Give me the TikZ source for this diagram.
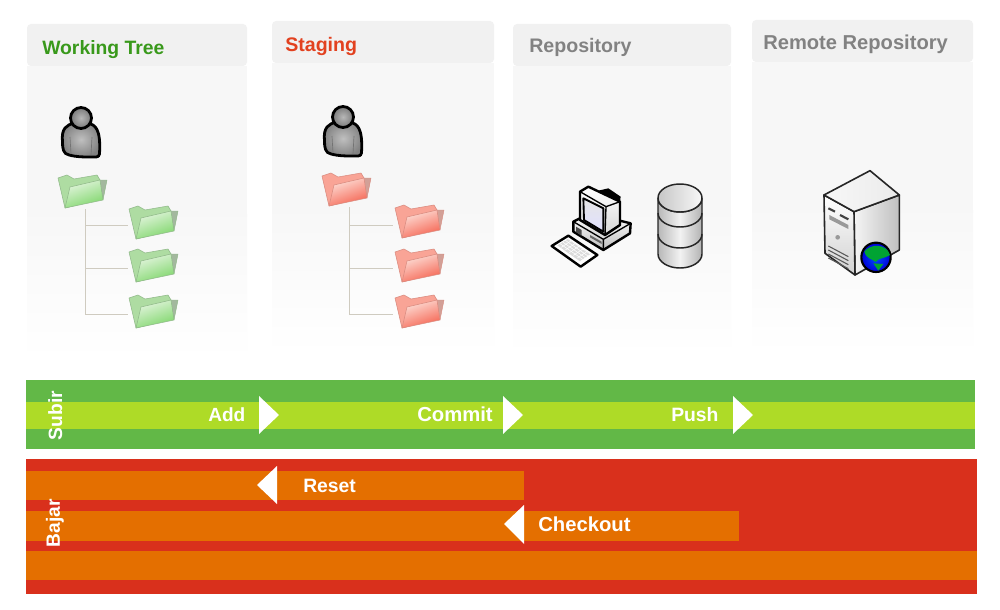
\documentclass[tikz,border=0pt]{standalone}
\usepackage{fontspec}
\setmainfont{Liberation Sans}
\usetikzlibrary{shadings}
\definecolor{barG}{HTML}{62B847}
\definecolor{barL}{HTML}{AEDB27}
\definecolor{barR}{HTML}{D9301C}
\definecolor{barO}{HTML}{E46F00}
\definecolor{ttlG}{HTML}{39991B}
\definecolor{ttlR}{HTML}{E2411F}
\definecolor{ttlK}{HTML}{828282}
\definecolor{lineT}{HTML}{CFCBC0}
\definecolor{gBack}{HTML}{AEDCA2}
\definecolor{gEdge}{HTML}{8FB888}
\definecolor{gFlap}{HTML}{A3B89E}
\definecolor{gLite}{HTML}{E4F5DF}
\definecolor{gDeep}{HTML}{7FD66B}
\definecolor{rBack}{HTML}{F9A496}
\definecolor{rEdge}{HTML}{D98A7E}
\definecolor{rFlap}{HTML}{D2A097}
\definecolor{rLite}{HTML}{FDE0D9}
\definecolor{rDeep}{HTML}{F56350}
\newcommand{\fsz}[1]{\fontsize{#1}{16}\selectfont\bfseries}
\tikzset{
  x=0.75pt,y=-0.75pt,
  paneltitle/.style={font=\fsz{14.7},anchor=base west,inner sep=0pt},
  barlabel/.style={text=white,inner sep=0pt,anchor=base west},
  sidelabel/.style={text=white,inner sep=0pt,rotate=90,anchor=base},
  arrowhead/.style={fill=white,draw=none},
  treeline/.style={draw=lineT,line width=0.75pt},
  pics/panel/.style args={#1/#2/#3}{code={
    \fill[black!5.5,rounded corners=3pt] (0,0) rectangle (#1,42);
    \fill[black!3] (0,#3) rectangle (#1,190);
    \shade[top color=black!3,bottom color=white] (0,190) rectangle (#1,#2);
  }},
  pics/folder/.style n args={5}{code={
    \fill[#1,draw=#2,line width=0.4pt,line join=round]
      (0,3) -- (9,0) -- (16,4) -- (39,0) -- (42,5) -- (39,25) -- (7,33) -- cycle;
    \fill[#5,draw=#2,line width=0.3pt,line join=round] (41,5) -- (49,5) -- (45,25) -- cycle;
    \shade[top color=#4,bottom color=#3,shading angle=20,draw=#2,line width=0.4pt,line join=round]
      (7,33) -- (12,12) -- (42,5) -- (45,25) -- cycle;
  }},
  pics/person/.style={code={
    \shade[inner color=black!25,outer color=black!50,draw=black,line width=2.1pt,line join=round]
      (-18.5,24) .. controls (-20,10) and (-14,7) .. (-7,5)
      .. controls (-2,3) and (2,3) .. (7,5)
      .. controls (14,7) and (20,10) .. (18.5,36)
      .. controls (18,40) and (14,39) .. (8,39)
      .. controls (2,39) and (-4,39) .. (-12,37)
      .. controls (-18,36) and (-18.5,30) .. (-18.5,24) -- cycle;
    \shade[inner color=black!28,outer color=black!52,draw=black,line width=2.1pt] (0,0) circle (10.5);
    \draw[black!55,line width=0.5pt] (-11,19) -- (-10,36) (11,19) -- (10,37);
  }}
}
\begin{document}
\begin{tikzpicture}
\useasboundingbox (0,0) rectangle (1000,610);
\fill[white] (0,0) rectangle (1000,610);

% panels
\pic at (27,24)  {panel={220/336/42}};
\pic at (272,21) {panel={222/334/42}};
\pic at (513,24) {panel={218/332/42}};
\pic at (752,20) {panel={221/335/42}};

\node[paneltitle,text=ttlG,font=\fsz{14.5}] (ttlWork) at (42,55) {Working Tree};
\node[paneltitle,text=ttlR] (ttlStage) at (285,52) {Staging};
\node[paneltitle,text=ttlK] (ttlRepo) at (529,53) {Repository};
\node[paneltitle,text=ttlK,font=\fsz{15.1}] (ttlRemote) at (763,50) {Remote Repository};

% people
\pic at (81,118) {person};
\pic at (343,117) {person};

% tree: working
\coordinate (wr) at (85,209);
\coordinate (we) at (85,314);
\coordinate (w1a) at (85,225); \coordinate (w1) at (128,225);
\coordinate (w2a) at (85,268); \coordinate (w2) at (128,268);
\coordinate (w3) at (128,314);
\draw[treeline] (wr) -- (we) -- (w3) (w1a) -- (w1) (w2a) -- (w2);
\pic at (58,175)  {folder={gBack}{gEdge}{gDeep}{gLite}{gFlap}};
\pic at (129,206) {folder={gBack}{gEdge}{gDeep}{gLite}{gFlap}};
\pic at (129,249) {folder={gBack}{gEdge}{gDeep}{gLite}{gFlap}};
\pic at (129,295) {folder={gBack}{gEdge}{gDeep}{gLite}{gFlap}};

% tree: staging
\coordinate (sr) at (349,207);
\coordinate (se) at (349,314);
\coordinate (s1a) at (349,225); \coordinate (s1) at (393,225);
\coordinate (s2a) at (349,268); \coordinate (s2) at (393,268);
\coordinate (s3) at (393,314);
\draw[treeline] (sr) -- (se) -- (s3) (s1a) -- (s1) (s2a) -- (s2);
\pic at (322,173) {folder={rBack}{rEdge}{rDeep}{rLite}{rFlap}};
\pic at (395,205) {folder={rBack}{rEdge}{rDeep}{rLite}{rFlap}};
\pic at (395,249) {folder={rBack}{rEdge}{rDeep}{rLite}{rFlap}};
\pic at (395,295) {folder={rBack}{rEdge}{rDeep}{rLite}{rFlap}};

% computer
\begin{scope}[shift={(540,170)},x=0.25pt,y=-0.25pt,line join=round]
  \fill[white,draw=black,line width=1.8pt] (35,228) -- (85,197) -- (172,255) -- (122,290) -- cycle;
  \fill[black!14] (52,226) -- (85,206) -- (152,252) -- (120,274) -- cycle;
  \foreach \k in {0,1,2,3}{\draw[white,line width=0.4pt] (60+\k*8,221-\k*5) -- (128+\k*8,268-\k*5);}
  \foreach \k in {0,1,2,3,4,5}{\draw[white,line width=0.4pt] (64+\k*12,232+\k*8) -- (94+\k*12,212+\k*8);}
  \shade[top color=white,bottom color=black!25,draw=black,line width=1.8pt]
    (100,155) -- (150,130) -- (272,160) -- (270,190) -- (190,240) -- (100,185) -- cycle;
  \draw[black,line width=1pt] (100,155) -- (190,208) -- (272,160) (190,208) -- (190,240);
  \fill[black!70] (108,170) -- (125,180) -- (125,198) -- (108,186) -- cycle;
  \fill[black!60] (150,195) -- (185,215) -- (185,222) -- (150,202) -- cycle;
  \shade[top color=white,bottom color=black!15,draw=black,line width=1.8pt]
    (120,65) -- (145,50) -- (240,95) -- (240,165) -- (195,195) -- (120,150) -- cycle;
  \fill[black] (175,62) -- (205,55) -- (242,80) -- (240,95) -- cycle;
  \draw[black,line width=1pt] (120,65) -- (198,110) -- (240,95) (198,110) -- (195,195);
  \shade[top color=black!10,bottom color=blue!12,draw=black,line width=1.4pt]
    (130,85) -- (190,115) -- (190,185) -- (132,150) -- cycle;
\end{scope}

% database
\begin{scope}[line width=1.1pt]
  \shade[left color=black!28,right color=black!30,middle color=black!5,draw=black!85]
    (658,198) -- (658,254) arc[start angle=180,end angle=0,x radius=22,y radius=14] -- (702,198)
    arc[start angle=0,end angle=180,x radius=22,y radius=14] -- cycle;
  \shade[left color=black!22,right color=black!3,draw=black!85] (680,198) ellipse[x radius=22,y radius=14];
  \draw[black!85] (658,213) arc[start angle=180,end angle=0,x radius=22,y radius=14];
  \draw[black!85] (658,234) arc[start angle=180,end angle=0,x radius=22,y radius=14];
\end{scope}

% server
\begin{scope}[shift={(810,160)},x=0.25pt,y=-0.25pt,line join=round]
  \shade[left color=black!4,right color=black!25,draw=black!85,line width=1.2pt]
    (132,155) -- (268,105) -- (268,270) -- (135,345) -- cycle;
  \shade[top color=white,bottom color=black!18,draw=black!85,line width=1.2pt]
    (42,105) -- (132,155) -- (135,345) -- (45,280) -- cycle;
  \shade[left color=black!3,right color=black!8,draw=black!85,line width=1.2pt] (42,105) -- (180,32) -- (268,105) -- (132,155) -- cycle;
  \draw[black!75,line width=1.6pt] (55,145) -- (75,155) (90,165) -- (115,178);
  \fill[black!40] (58,165) -- (115,195) -- (115,207) -- (58,178) -- cycle;
  \fill[black!40] (83,232) circle (7);
  \foreach \i in {0,1,2,3}{\draw[black!65,line width=0.8pt] (55,258+\i*12) -- (115,290+\i*12);}
  \shade[inner color=blue!70!cyan,outer color=blue!85!black,draw=black,line width=1.6pt] (198,292) circle (44);
  \fill[green!55!black!80!cyan] (163,275) .. controls (180,250) and (230,250) .. (240,285)
     .. controls (218,298) and (208,292) .. (197,306) .. controls (185,295) and (170,298) .. (163,275) -- cycle;
  \fill[green!55!black!80!cyan] (190,310) -- (220,312) -- (205,332) -- cycle;
\end{scope}

% bars
\fill[barG] (26,380) rectangle (975,449);
\fill[barL] (26,402) rectangle (975,429);
\fill[barR] (26,459) rectangle (977,594);
\fill[barO] (26,471) rectangle (524,500);
\fill[barO] (26,511) rectangle (739,541);
\fill[barO] (26,551) rectangle (977,580);

\fill[arrowhead] (259,396) -- (279,415) -- (259,434) -- cycle;
\fill[arrowhead] (503,396) -- (523,415) -- (503,434) -- cycle;
\fill[arrowhead] (733,396) -- (753,415) -- (733,434) -- cycle;
\fill[arrowhead] (277,466) -- (257,485) -- (277,504) -- cycle;
\fill[arrowhead] (524,505) -- (504,524) -- (524,544) -- cycle;

\node[barlabel,font=\fsz{14.3}] (add) at (208,421.5) {Add};
\node[barlabel,font=\fsz{15.2}] (commit) at (417,421.5) {Commit};
\node[barlabel,font=\fsz{14.5}] (push) at (671,421.5) {Push};
\node[barlabel,font=\fsz{14.5}] (reset) at (303,492) {Reset};
\node[barlabel,font=\fsz{15.2}] (checkout) at (538,531) {Checkout};
\node[sidelabel,font=\fsz{14.4}] (subir) at (62,415.5) {Subir};
\node[sidelabel,font=\fsz{14.4}] (bajar) at (60,523) {Bajar};
\end{tikzpicture}
\end{document}
